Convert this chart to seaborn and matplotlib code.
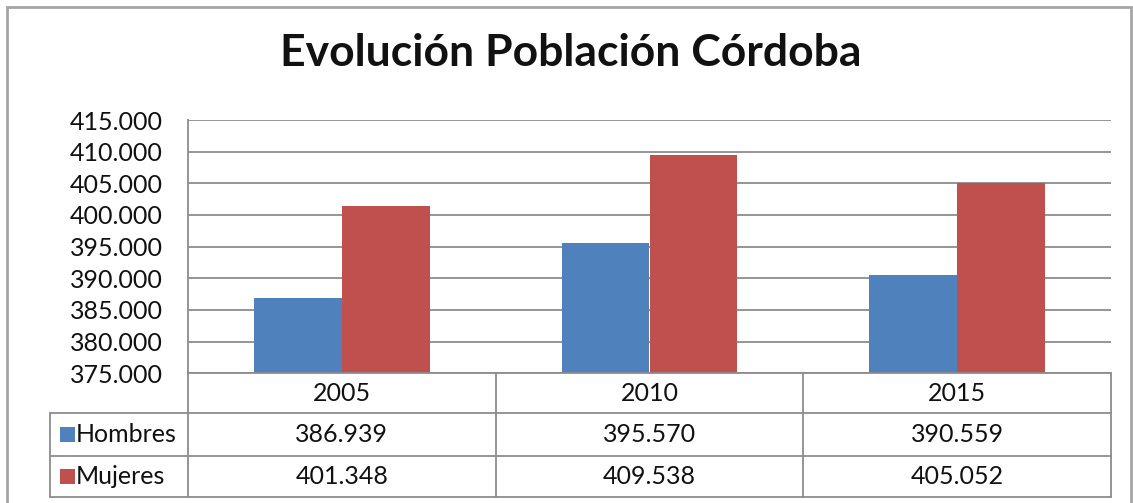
import matplotlib
matplotlib.use("Agg")
import matplotlib.pyplot as plt
import pandas as pd
import seaborn as sns
from matplotlib.lines import Line2D
from matplotlib.patches import Rectangle
from matplotlib.transforms import blended_transform_factory

# ---- data -------------------------------------------------------------
years = ["2005", "2010", "2015"]
series = ["Hombres", "Mujeres"]
hombres = [386939, 395570, 390559]
mujeres = [401348, 409538, 405052]
y_ticks = [375000, 380000, 385000, 390000, 395000, 400000, 405000, 410000, 415000]
title = "Evolución Población Córdoba"

colors = ["#4F81BD", "#C0504D"]
grid_col = "#8C8C8C"
frame_col = "#A6A6A6"
text_col = "#111111"
FS = 18


def miles(v):
    return f"{v:,.0f}".replace(",", ".")


df = pd.DataFrame({
    "Año": years * 2,
    "Población": hombres + mujeres,
    "Sexo": [series[0]] * len(years) + [series[1]] * len(years),
})

sns.set_theme(style="white")
plt.rcParams["font.family"] = ["Lato", "DejaVu Sans"]

W, H = 1133, 503
fig = plt.figure(figsize=(W / 100, H / 100), dpi=100)
fig.patch.set_facecolor("white")


def fx(px):
    return px / W


def fy(py):
    return 1 - py / H


# plot area
left, right, top, bottom = 188, 1111, 120, 373.3
ax = fig.add_axes([fx(left), fy(bottom), fx(right) - fx(left), fy(top) - fy(bottom)])
sns.barplot(data=df, x="Año", y="Población", hue="Sexo", palette=colors,
            saturation=1, width=0.572, gap=0, linewidth=0, errorbar=None,
            legend=False, ax=ax)
ax.set_xlim(-0.5, len(years) - 0.5)
ax.set_ylim(y_ticks[0], y_ticks[-1])
ax.set_yticks(y_ticks)
ax.set_yticklabels([miles(v) for v in y_ticks])
ax.set_xticks([])
ax.set_xlabel("")
ax.set_ylabel("")
ax.yaxis.grid(True, color=grid_col, lw=1.3)
ax.set_axisbelow(True)
for s in ["top", "right", "bottom"]:
    ax.spines[s].set_visible(False)
ax.spines["left"].set_color(grid_col)
ax.spines["left"].set_linewidth(1.3)
ax.tick_params(axis="y", length=0, pad=18, labelsize=FS, labelcolor=text_col)

# title
fig.text(fx(571), fy(53), title, ha="center", va="center",
         fontsize=32, fontweight="bold", color=text_col)

# data table below the plot
mix = blended_transform_factory(ax.transData, fig.transFigure)
row_y = [373.3, 413.3, 455.7, 497.3]
label_left = 50
line_kw = dict(color=grid_col, lw=1.3)

fig.add_artist(Line2D([fx(left), fx(right)], [fy(row_y[0])] * 2, transform=fig.transFigure, **line_kw))
for yy in row_y[1:]:
    fig.add_artist(Line2D([fx(label_left), fx(right)], [fy(yy)] * 2, transform=fig.transFigure, **line_kw))
fig.add_artist(Line2D([fx(label_left)] * 2, [fy(row_y[1]), fy(row_y[3])], transform=fig.transFigure, **line_kw))
for b in [i - 0.5 for i in range(len(years) + 1)]:
    fig.add_artist(Line2D([b, b], [fy(row_y[0]), fy(row_y[3])], transform=mix, **line_kw))

txt_kw = dict(fontsize=FS, color=text_col, va="center")
for i, yr in enumerate(years):
    fig.text(i, fy((row_y[0] + row_y[1]) / 2), yr, ha="center", transform=mix, **txt_kw)

for r, (name, vals, c) in enumerate(zip(series, [hombres, mujeres], colors)):
    yc = (row_y[r + 1] + row_y[r + 2]) / 2
    fig.add_artist(Rectangle((fx(60), fy(yc + 7.5)), fx(15), 15 / H, transform=fig.transFigure,
                             facecolor=c, edgecolor="none"))
    fig.text(fx(76), fy(yc), name, ha="left", **txt_kw)
    for i, v in enumerate(vals):
        fig.text(i, fy(yc), miles(v), ha="center", transform=mix, **txt_kw)

# chart frame
fig.add_artist(Rectangle((fx(6.5), fy(520)), fx(1131) - fx(6.5), (520 - 7) / H,
                         transform=fig.transFigure, facecolor="none",
                         edgecolor=frame_col, lw=2))

fig.savefig("out.png", dpi=100, facecolor="white")
